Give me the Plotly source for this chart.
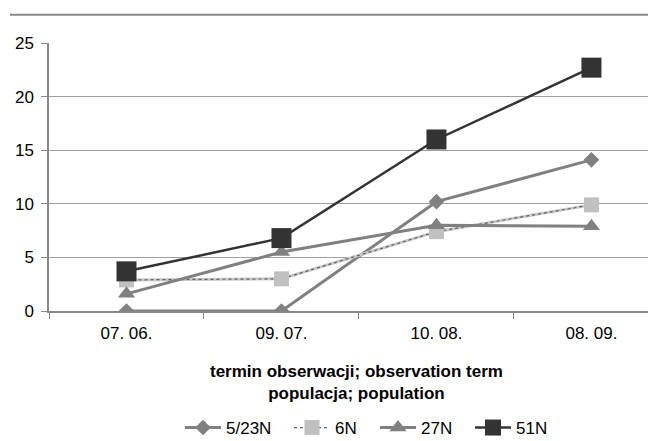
import plotly.graph_objects as go

categories = ["07. 06.", "09. 07.", "10. 08.", "08. 09."]
s_523N = [0, 0, 10.2, 14.1]
s_6N = [2.9, 3.0, 7.4, 9.9]
s_27N = [1.6, 5.5, 8.0, 7.9]
s_51N = [3.7, 6.8, 16.0, 22.7]

FONT = "Liberation Sans, Arial, sans-serif"

# figure-pixel geometry (page has an 8px body margin)
L, T, B = 41, 35, 138
PLOT_H = 441 - T - B
PLOT_W = 656 - L

fig = go.Figure()
fig.add_trace(go.Scatter(x=categories, y=s_523N, name="5/23N", mode="lines+markers",
                         line=dict(color="#808080", width=3), legendwidth=58,
                         marker=dict(symbol="diamond", size=12, color="#808080")))
fig.add_trace(go.Scatter(x=categories, y=s_6N, name="6N", mode="lines", showlegend=False,
                         legendgroup="6N", line=dict(color="#c8c8c8", width=3), hoverinfo="skip"))
fig.add_trace(go.Scatter(x=categories, y=s_6N, name="6N", mode="lines+markers", legendgroup="6N",
                         line=dict(color="#606060", width=1.2, dash="dot"), legendwidth=35,
                         marker=dict(symbol="square", size=15, color="#c0c0c0")))
fig.add_trace(go.Scatter(x=categories, y=s_27N, name="27N", mode="lines+markers",
                         line=dict(color="#808080", width=3), legendwidth=44,
                         marker=dict(symbol="triangle-up", size=15, color="#808080")))
fig.add_trace(go.Scatter(x=categories, y=s_51N, name="51N", mode="lines+markers",
                         line=dict(color="#333333", width=2.5), legendwidth=44,
                         marker=dict(symbol="square", size=20, color="#333333")))

fig.update_layout(
    width=656, height=441,
    margin=dict(l=L, r=0, t=T, b=B),
    paper_bgcolor="white", plot_bgcolor="white",
    font=dict(family=FONT, size=17, color="black"),
    showlegend=True,
    legend=dict(orientation="h", x=(180 - 8 - L) / PLOT_W, xanchor="left",
                y=(PLOT_H - (428 - 8 - T)) / PLOT_H,
                yanchor="middle", font=dict(size=17), itemwidth=36, traceorder="normal"),
    xaxis=dict(type="category", range=[-0.5, 3.468], tickson="boundaries",
               ticks="outside", ticklen=6, tickcolor="#888888",
               showline=True, linecolor="#888888", linewidth=1.5,
               showgrid=False, tickfont=dict(size=17), ticklabelstandoff=6),
    yaxis=dict(range=[0, 25], tickvals=[0, 5, 10, 15, 20, 25], ticks="outside", ticklen=6,
               tickcolor="#888888", showline=True, linecolor="#888888", linewidth=1.5,
               showgrid=True, gridcolor="#a0a0a0", gridwidth=1.2, zeroline=False,
               tickfont=dict(size=17), ticklabelstandoff=4),
    annotations=[dict(text="<b>termin obserwacji; observation term<br>populacja; population</b>",
                      xref="paper", yref="paper", x=0.5, xanchor="center",
                      y=(PLOT_H - (383 - 8 - T)) / PLOT_H, yanchor="middle",
                      showarrow=False, font=dict(size=17, color="black"))],
    shapes=[dict(type="line", xref="paper", yref="paper", x0=(2 - L) / PLOT_W, x1=1,
                 y0=(PLOT_H + T - 6.7) / PLOT_H, y1=(PLOT_H + T - 6.7) / PLOT_H,
                 line=dict(color="#888888", width=2))],
)

fig.write_html("out.html")
